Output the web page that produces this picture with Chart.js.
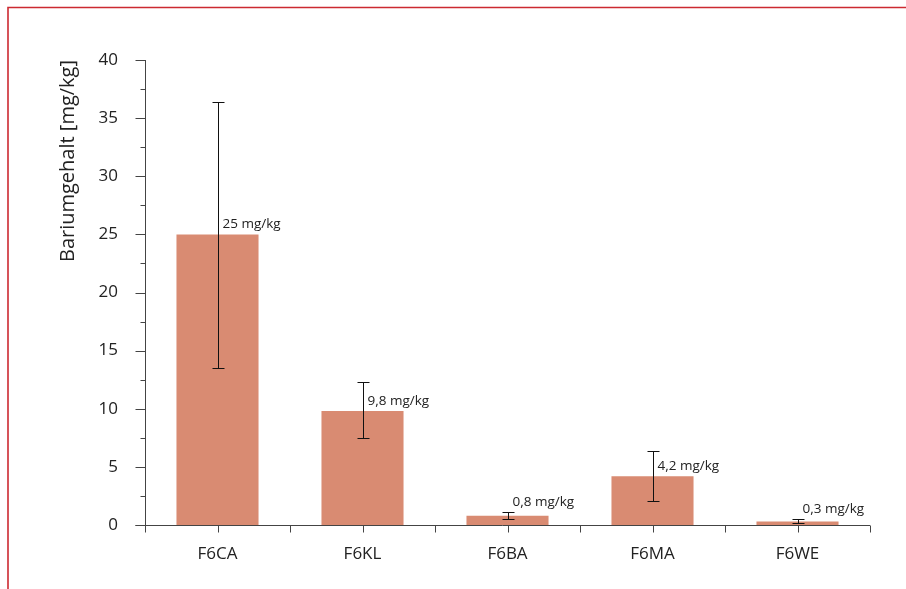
<!DOCTYPE html>
<html>
<head>
<meta charset="utf-8">
<script src="https://cdn.jsdelivr.net/npm/chart.js@4/dist/chart.umd.min.js"></script>
<style>
  html, body { margin: 0; padding: 0; background: #fff; }
  #wrap { width: 906px; height: 589px; position: relative; }
</style>
</head>
<body>
<div id="wrap"><canvas id="c" width="906" height="589"></canvas></div>
<script>
// Barium content per sample site
const categories = ['F6CA', 'F6KL', 'F6BA', 'F6MA', 'F6WE'];
const values     = [25, 9.8, 0.8, 4.2, 0.3];
const errLow     = [13.5, 7.5, 0.5, 2.1, 0.2];
const errHigh    = [36.4, 12.3, 1.15, 6.4, 0.48];
const valueLabels = ['25 mg/kg', '9,8 mg/kg', '0,8 mg/kg', '4,2 mg/kg', '0,3 mg/kg'];
const yTicks = [0, 5, 10, 15, 20, 25, 30, 35, 40];

const FONT = "'Open Sans', 'Noto Sans', sans-serif";
const AXIS = '#444';
const TEXT = '#222';

// Frame, axes, tick marks, error bars and value labels
const decor = {
  id: 'decor',
  beforeDraw(chart) {
    const ctx = chart.ctx;
    ctx.save();
    ctx.strokeStyle = '#cc2a31';
    ctx.lineWidth = 1.6;
    ctx.beginPath();
    ctx.moveTo(8, 589);
    ctx.lineTo(8, 7.5);
    ctx.lineTo(906, 7.5);
    ctx.stroke();
    ctx.restore();
  },
  afterDatasetsDraw(chart) {
    const ctx = chart.ctx;
    const x = chart.scales.x, y = chart.scales.y;
    const a = chart.chartArea;
    ctx.save();
    ctx.strokeStyle = AXIS;
    ctx.lineWidth = 1;
    // y axis line and ticks (major every 5, minor in between)
    const yx = Math.round(a.left) + 0.5;
    ctx.beginPath();
    ctx.moveTo(yx, y.getPixelForValue(40));
    ctx.lineTo(yx, y.getPixelForValue(0));
    for (let v = 0; v <= 40; v += 2.5) {
      const py = Math.round(y.getPixelForValue(v)) + 0.5;
      const len = (v % 5 === 0) ? 10 : 5;
      ctx.moveTo(yx - len, py);
      ctx.lineTo(yx, py);
    }
    // x axis line with ticks at category centres and boundaries
    const xy = Math.round(y.getPixelForValue(0)) + 0.5;
    const step = x.getPixelForValue(1) - x.getPixelForValue(0);
    const x0 = x.getPixelForValue(0) - step / 2;
    ctx.moveTo(yx - 10, xy);
    ctx.lineTo(x0 + step * categories.length, xy);
    for (let i = 0; i <= categories.length * 2; i++) {
      const px = Math.round(x0 + i * step / 2) + 0.5;
      ctx.moveTo(px, xy);
      ctx.lineTo(px, xy + 7);
    }
    ctx.stroke();

    // error bars
    ctx.strokeStyle = '#111';
    ctx.beginPath();
    categories.forEach((c, i) => {
      const px = Math.round(x.getPixelForValue(i)) + 0.5;
      const top = Math.round(y.getPixelForValue(errHigh[i])) + 0.5;
      const bot = Math.round(y.getPixelForValue(errLow[i])) + 0.5;
      ctx.moveTo(px, top); ctx.lineTo(px, bot);
      ctx.moveTo(px - 6, top); ctx.lineTo(px + 6, top);
      ctx.moveTo(px - 6, bot); ctx.lineTo(px + 6, bot);
    });
    ctx.stroke();

    // value labels, right of the error bar, above the bar (or above a short whisker)
    ctx.fillStyle = TEXT;
    ctx.font = '13.5px ' + FONT;
    ctx.textAlign = 'left';
    ctx.textBaseline = 'alphabetic';
    categories.forEach((c, i) => {
      const px = x.getPixelForValue(i);
      const top = y.getPixelForValue(values[i]);
      const whisker = y.getPixelForValue(errHigh[i]);
      const base = (top - whisker < 15) ? whisker - 6 : top - 6;
      ctx.fillText(valueLabels[i], px + 5, base);
    });
    ctx.restore();
  }
};

new Chart(document.getElementById('c'), {
  type: 'bar',
  data: {
    labels: categories,
    datasets: [{
      data: values,
      backgroundColor: '#d98b72',
      borderWidth: 0,
      barPercentage: 0.566,
      categoryPercentage: 1
    }]
  },
  options: {
    responsive: false,
    animation: false,
    events: [],
    layout: { padding: { top: 60, right: 36, left: 0, bottom: 0 } },
    plugins: { legend: { display: false }, tooltip: { enabled: false } },
    scales: {
      x: {
        type: 'category',
        offset: true,
        grid: { display: false, drawTicks: false },
        border: { display: false },
        ticks: { color: TEXT, font: { family: FONT, size: 17 }, padding: 19, maxRotation: 0 },
        afterFit(s) { s.height = 64; }
      },
      y: {
        min: 0, max: 40,
        afterBuildTicks(s) { s.ticks = yTicks.map(v => ({ value: v })); },
        grid: { display: false, drawTicks: false },
        border: { display: false },
        ticks: { color: TEXT, font: { family: FONT, size: 17 }, padding: 27 },
        title: {
          display: true,
          text: 'Bariumgehalt [mg/kg]',
          color: TEXT,
          align: 'end',
          font: { family: FONT, size: 20 },
          padding: { top: 56, bottom: 0 }
        },
        afterFit(s) { s.width = 145; }
      }
    }
  },
  plugins: [decor]
});
</script>
</body>
</html>
